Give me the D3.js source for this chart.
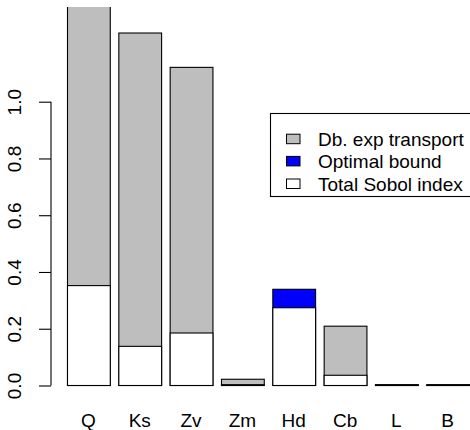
<!DOCTYPE html>
<html>
<head>
<meta charset="utf-8">
<script src="https://cdn.jsdelivr.net/npm/d3@7"></script>
<style>
html,body{margin:0;padding:0;background:#fff;}
svg{display:block;}
text{font-family:"Liberation Sans",Arial,Helvetica,sans-serif;}
</style>
</head>
<body>
<script>
const categories = ["Q","Ks","Zv","Zm","Hd","Cb","L","B"];
const transport = [1.45, 1.242, 1.121, 0.022, null, 0.209, 0.003, 0.003];
const bound     = [null, null, null, null, 0.339, null, null, null];
const sobol     = [0.352, 0.138, 0.185, 0.003, 0.274, 0.036, 0.002, 0.002];
const yTicks = [0, 0.2, 0.4, 0.6, 0.8, 1.0];
const legendLabels = ["Db. exp transport","Optimal bound","Total Sobol index"];
const legendColors = ["#bebebe","#0000ff","#ffffff"];

const W = 470, H = 430;
const FS = 19;
const svg = d3.select("body").append("svg").attr("width", W).attr("height", H);

const x = d3.scaleBand().domain(categories).range([67, 469.1]).paddingInner(1/6).paddingOuter(0);
const y = d3.scaleLinear().domain([0, 1]).range([385.5, 101.7]);

svg.append("defs").append("clipPath").attr("id","plotclip")
  .append("rect").attr("x", 0).attr("y", 7).attr("width", W).attr("height", H - 7);

const g = svg.append("g").attr("clip-path","url(#plotclip)");

function drawSeries(vals, color) {
  g.selectAll(null).data(categories.map((c,i)=>({c, v: vals[i]})).filter(d => d.v != null))
    .enter().append("rect")
    .attr("x", d => x(d.c) + 0.5)
    .attr("y", d => y(d.v))
    .attr("width", x.bandwidth())
    .attr("height", d => y(0) - y(d.v))
    .attr("fill", color)
    .attr("stroke", "#000")
    .attr("stroke-width", 1.1);
}
drawSeries(transport, legendColors[0]);
drawSeries(bound, legendColors[1]);
drawSeries(sobol, legendColors[2]);

// y axis
const yAxis = d3.axisLeft(y).tickValues(yTicks).tickSize(12).tickFormat(d3.format(".1f"));
const ya = svg.append("g").attr("transform","translate(51,0)").call(yAxis);
ya.select(".domain").attr("d", `M0,${y(0)}V${y(1)}`).attr("stroke","#000").attr("stroke-width",1.1);
ya.selectAll(".tick line").attr("stroke","#000").attr("stroke-width",1.1);
ya.selectAll(".tick text")
  .attr("font-size", FS)
  .attr("fill","#000")
  .attr("text-anchor","middle")
  .attr("x", 0).attr("y", 0)
  .attr("dy", 0)
  .attr("transform", "translate(-30.5,0) rotate(-90)");

// category labels
const xa = svg.append("g").attr("transform","translate(0,426.5)")
  .call(d3.axisBottom(x).tickSize(0).tickPadding(0));
xa.select(".domain").remove();
xa.selectAll(".tick text").attr("font-size", FS).attr("fill","#000").attr("dy", 0).attr("y", 0);

// legend
const lg = svg.append("g");
lg.append("rect").attr("x", 270.5).attr("y", 113.5).attr("width", 205).attr("height", 83)
  .attr("fill","#fff").attr("stroke","#000").attr("stroke-width",1.1);
const baselines = [145.7, 167.9, 190.5];
legendLabels.forEach((lab, i) => {
  lg.append("rect").attr("x", 286.5).attr("y", baselines[i] - 11.5).attr("width", 13.5).attr("height", 9.5)
    .attr("fill", legendColors[i]).attr("stroke","#000").attr("stroke-width",1);
  lg.append("text").attr("x", 318).attr("y", baselines[i]).attr("font-size", FS).attr("fill","#000").text(lab);
});
</script>
</body>
</html>
